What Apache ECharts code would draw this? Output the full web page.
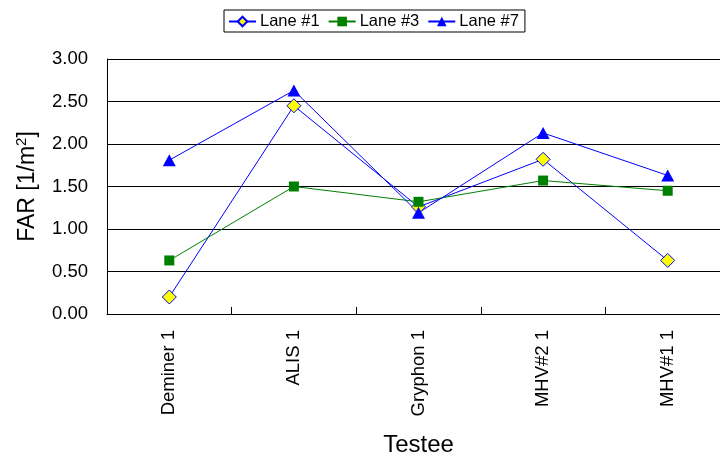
<!DOCTYPE html>
<html>
<head>
<meta charset="utf-8">
<script src="https://cdn.jsdelivr.net/npm/echarts@6/dist/echarts.min.js"></script>
<style>
  html, body { margin: 0; padding: 0; background: #fff; }
  #chart { width: 720px; height: 456px; }
</style>
</head>
<body>
<div id="chart"></div>
<script>
// Testees along the category axis
const testees = ['Deminer 1', 'ALIS 1', 'Gryphon 1', 'MHV#2 1', 'MHV#1 1'];

// False alarm rate per lane [1/m²]
const lane1 = [0.20, 2.45, 1.26, 1.82, 0.63];
const lane3 = [0.63, 1.50, 1.32, 1.57, 1.45];
const lane7 = [1.81, 2.63, 1.19, 2.13, 1.63];

const yTicks = [0, 0.5, 1, 1.5, 2, 2.5, 3];

const FONT = '"Liberation Sans", Arial, sans-serif';

const chart = echarts.init(document.getElementById('chart'), null, { renderer: 'canvas' });

chart.setOption({
  animation: false,
  backgroundColor: '#fff',
  textStyle: { fontFamily: FONT, color: '#000' },
  legend: {
    left: 224,
    top: 10,
    padding: [3, 6, 2, 4],
    itemGap: 8,
    itemWidth: 27,
    itemHeight: 12,
    borderColor: '#000',
    borderWidth: 1,
    textStyle: { fontFamily: FONT, fontSize: 16.5, color: '#000', padding: [0, 0, 0, -1] },
    data: ['Lane #1', 'Lane #3', 'Lane #7']
  },
  // the plot area runs a little past the right edge of the canvas
  grid: { left: 107, top: 59, width: 623, bottom: 142, outerBoundsMode: 'none' },
  xAxis: {
    type: 'category',
    data: testees,
    boundaryGap: true,
    name: 'Testee',
    nameLocation: 'middle',
    nameGap: 119,
    nameTextStyle: { fontFamily: FONT, fontSize: 24, color: '#000' },
    axisLine: { lineStyle: { color: '#000', width: 1 } },
    axisTick: { show: true, inside: true, length: 7, lineStyle: { color: '#000' } },
    axisLabel: { rotate: 90, margin: 16, fontFamily: FONT, fontSize: 18.5, color: '#000' },
    splitLine: { show: false }
  },
  yAxis: {
    type: 'value',
    min: yTicks[0],
    max: yTicks[yTicks.length - 1],
    interval: 0.5,
    name: 'FAR [1/m{sup|2}]',
    nameLocation: 'middle',
    nameRotate: 90,
    nameGap: 66,
    nameTextStyle: {
      fontFamily: FONT, fontSize: 23, color: '#000',
      rich: { sup: { fontFamily: FONT, fontSize: 15, color: '#000', verticalAlign: 'top', padding: [0, 0, 12, 0] } }
    },
    axisLine: { show: true, lineStyle: { color: '#000', width: 1 } },
    axisTick: { show: false },
    axisLabel: {
      margin: 19, fontFamily: FONT, fontSize: 18.5, color: '#000',
      formatter: v => v.toFixed(2)
    },
    splitLine: { show: true, lineStyle: { color: '#000', width: 1 } }
  },
  series: [
    {
      name: 'Lane #1',
      type: 'line',
      data: lane1,
      symbol: 'diamond',
      symbolSize: 14,
      lineStyle: { color: '#0000FF', width: 1 },
      itemStyle: { color: '#FFFF00', borderColor: '#0000FF', borderWidth: 1 }
    },
    {
      name: 'Lane #3',
      type: 'line',
      data: lane3,
      symbol: 'rect',
      symbolSize: 10,
      lineStyle: { color: '#008000', width: 1 },
      itemStyle: { color: '#008000', borderColor: '#008000', borderWidth: 0 }
    },
    {
      name: 'Lane #7',
      type: 'line',
      data: lane7,
      symbol: 'triangle',
      symbolSize: [13, 12],
      lineStyle: { color: '#0000FF', width: 1 },
      itemStyle: { color: '#0000FF', borderColor: '#0000FF', borderWidth: 0 }
    }
  ]
});
</script>
</body>
</html>
